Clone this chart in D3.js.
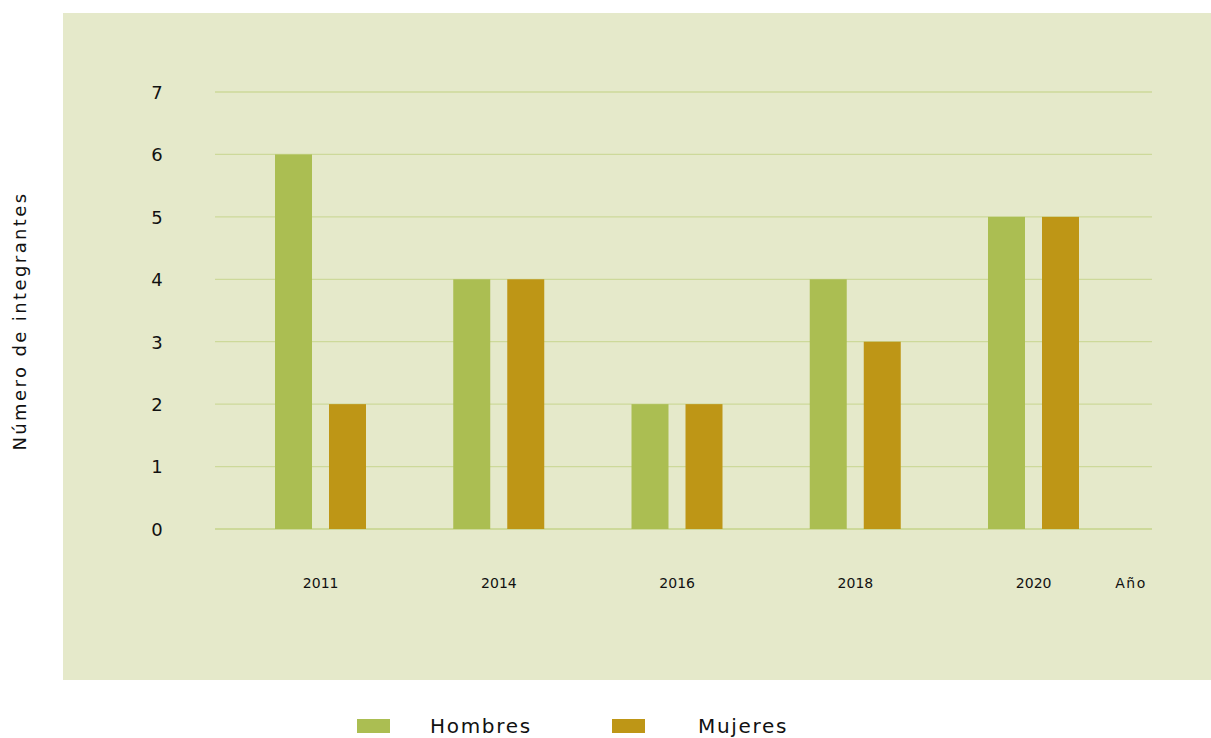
<!DOCTYPE html>
<html><head><meta charset="utf-8">
<script src="https://cdn.jsdelivr.net/npm/d3@7"></script>
<style>body{margin:0;background:#fff;}svg{display:block;font-family:"DejaVu Sans",sans-serif;}</style>
</head><body>
<svg id="c" width="1211" height="738"></svg>
<script>
const years = ["2011","2014","2016","2018","2020"];
const series = ["Hombres","Mujeres"];
const hombres = [6,4,2,4,5];
const mujeres = [2,4,2,3,5];
const yTicks = [0,1,2,3,4,5,6,7];
const colors = ["#abbe52","#be9616"];

const svg = d3.select("#c");
svg.append("rect").attr("x",63).attr("y",13).attr("width",1148).attr("height",667).attr("fill","#e5e9ca");

const y = d3.scaleLinear().domain([0,7]).range([529,92]);
const x0 = d3.scaleBand().domain(years).range([231.5,1122.75]);
const x1 = d3.scaleBand().domain(series).range([43.5,134.5]).paddingInner(0.315);

// grid
svg.append("g").selectAll("line").data(yTicks).join("line")
  .attr("x1",215).attr("x2",1152)
  .attr("y1",d=>y(d)).attr("y2",d=>y(d))
  .attr("stroke","#cdd99a").attr("stroke-width",d=>d===0?2:1.3);

const yAxis = d3.axisLeft(y).tickValues(yTicks).tickFormat(d3.format("d")).tickSize(0).tickPadding(0);
const ga = svg.append("g").attr("transform","translate(157,0)").call(yAxis);
ga.select(".domain").remove();
ga.selectAll("text").attr("font-family","DejaVu Sans").attr("font-size",18).attr("fill","#111").attr("text-anchor","middle").attr("dy","0.35em");

const data = years.map((yr,i)=>({year:yr, vals:[hombres[i],mujeres[i]]}));
const groups = svg.append("g").selectAll("g").data(data).join("g")
  .attr("transform",d=>`translate(${x0(d.year)},0)`);
groups.selectAll("rect").data(d=>d.vals.map((v,j)=>({s:series[j],v,j}))).join("rect")
  .attr("x",d=>x1(d.s)).attr("width",x1.bandwidth())
  .attr("y",d=>y(d.v)).attr("height",d=>y(0)-y(d.v))
  .attr("fill",d=>colors[d.j]);

const xAxis = d3.axisBottom(x0).tickSize(0).tickPadding(0);
const gx = svg.append("g").attr("transform","translate(0,588)").call(xAxis);
gx.select(".domain").remove();
gx.selectAll("text").attr("font-family","DejaVu Sans").attr("font-size",14).attr("fill","#111").attr("dy",0);

svg.append("text").attr("x",1131).attr("y",588).attr("text-anchor","middle")
  .attr("font-size",14).attr("letter-spacing",1.5).attr("fill","#111").text("Año");

svg.append("text").attr("transform","translate(26,321) rotate(-90)")
  .attr("text-anchor","middle").attr("font-size",18).attr("letter-spacing",2.4).attr("fill","#111").text("Número de integrantes");

// legend
const legX = [357,612], legTX = [430,698];
const lg = svg.append("g").selectAll("g").data(series).join("g");
lg.append("rect").attr("x",(d,i)=>legX[i]).attr("y",719).attr("width",33).attr("height",14).attr("fill",(d,i)=>colors[i]);
lg.append("text").attr("x",(d,i)=>legTX[i]).attr("y",733).attr("font-size",20).attr("fill","#111").attr("letter-spacing",1.7).text(d=>d);
</script>
</body></html>
